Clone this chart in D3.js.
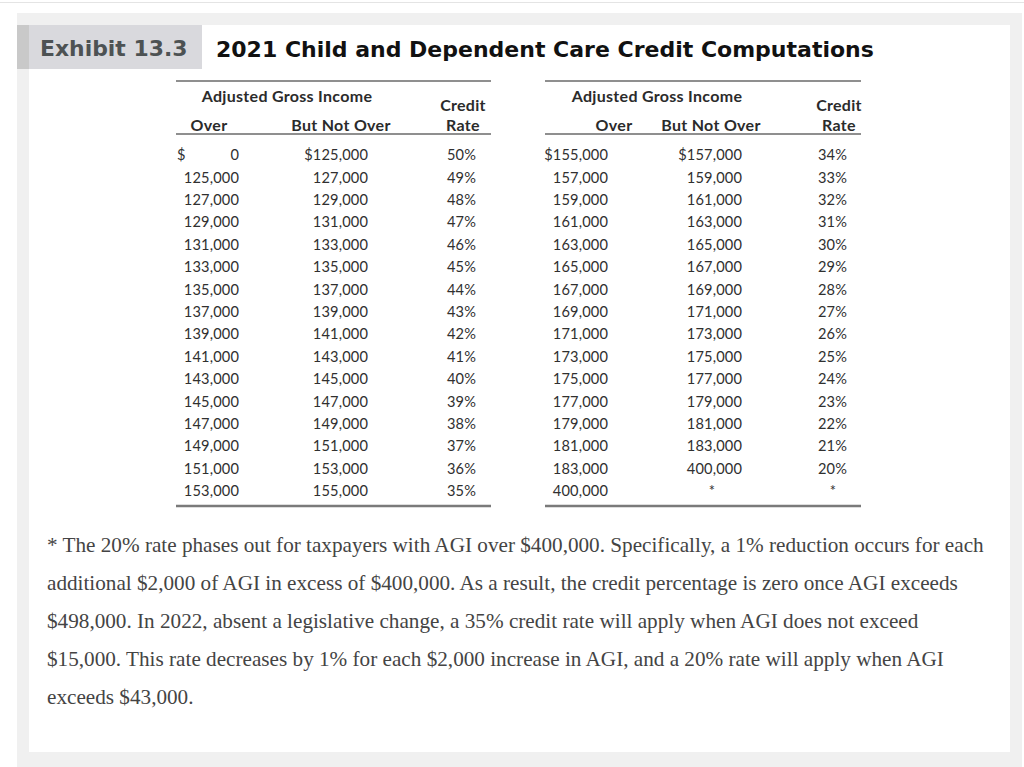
<!DOCTYPE html>
<html>
<head>
<meta charset="utf-8">
<script src="https://cdn.jsdelivr.net/npm/d3@7"></script>
<style>
  html, body { margin: 0; padding: 0; background: #ffffff; }
  svg { display: block; }
</style>
</head>
<body>
<svg id="chart" width="1024" height="767"></svg>
<script>
// ---- Data ----
const exhibitLabel = "Exhibit 13.3";
const titleText = "2021 Child and Dependent Care Credit Computations";
const groupHeader = "Adjusted Gross Income";
const colHeaders = ["Over", "But Not Over"];
const rateHeader = ["Credit", "Rate"];

const leftOver    = [0, 125000, 127000, 129000, 131000, 133000, 135000, 137000, 139000, 141000, 143000, 145000, 147000, 149000, 151000, 153000];
const leftNotOver = [125000, 127000, 129000, 131000, 133000, 135000, 137000, 139000, 141000, 143000, 145000, 147000, 149000, 151000, 153000, 155000];
const leftRate    = [50, 49, 48, 47, 46, 45, 44, 43, 42, 41, 40, 39, 38, 37, 36, 35];

const rightOver    = [155000, 157000, 159000, 161000, 163000, 165000, 167000, 169000, 171000, 173000, 175000, 177000, 179000, 181000, 183000, 400000];
const rightNotOver = [157000, 159000, 161000, 163000, 165000, 167000, 169000, 171000, 173000, 175000, 177000, 179000, 181000, 183000, 400000, null];
const rightRate    = [34, 33, 32, 31, 30, 29, 28, 27, 26, 25, 24, 23, 22, 21, 20, null];

const footnoteLines = [
  "* The 20% rate phases out for taxpayers with AGI over $400,000. Specifically, a 1% reduction occurs for each",
  "additional $2,000 of AGI in excess of $400,000. As a result, the credit percentage is zero once AGI exceeds",
  "$498,000. In 2022, absent a legislative change, a 35% credit rate will apply when AGI does not exceed",
  "$15,000. This rate decreases by 1% for each $2,000 increase in AGI, and a 20% rate will apply when AGI",
  "exceeds $43,000."
];

// ---- Drawing ----
const svg = d3.select("#chart");
const fmt = d3.format(",");

// page frame
svg.append("line").attr("x1", 0).attr("x2", 1024).attr("y1", 2.5).attr("y2", 2.5)
  .attr("stroke", "#e4e4e4").attr("stroke-width", 1);
svg.append("rect").attr("x", 17).attr("y", 13).attr("width", 1005).attr("height", 760).attr("fill", "#f0f0f0");
svg.append("rect").attr("x", 29).attr("y", 25).attr("width", 981).attr("height", 727).attr("fill", "#ffffff");

// title band
svg.append("rect").attr("x", 17).attr("y", 25).attr("width", 12).attr("height", 44).attr("fill", "#c9c9c9");
svg.append("rect").attr("x", 29).attr("y", 25).attr("width", 173).attr("height", 44).attr("fill", "#d9d9dd");
svg.append("text").attr("x", 40).attr("y", 56)
  .attr("font-family", "DejaVu Sans").attr("font-weight", "bold").attr("font-size", 21.9)
  .attr("fill", "#4d5253").text(exhibitLabel);
svg.append("text").attr("x", 216).attr("y", 56.5)
  .attr("font-family", "DejaVu Sans").attr("font-weight", "bold").attr("font-size", 22)
  .attr("fill", "#111111").text(titleText);

// row scale
const y = d3.scalePoint().domain(d3.range(16)).range([155, 491]);

const bodyFont = "Lato";
const bodySize = 14.6;
const headSize = 16;

function drawTable(g, cfg) {
  const { x0, x1, overRight, notOverRight, rateRight, groupCenter, overCenter, notOverCenter, rateCenter,
          over, notOver, rate, dollarLeft } = cfg;
  // rules
  g.append("line").attr("x1", x0).attr("x2", x1).attr("y1", 81).attr("y2", 81)
    .attr("stroke", "#6a6a6a").attr("stroke-width", 1.6);
  g.append("line").attr("x1", x0).attr("x2", x1).attr("y1", 134).attr("y2", 134)
    .attr("stroke", "#6a6a6a").attr("stroke-width", 1.6);
  g.append("line").attr("x1", x0).attr("x2", x1).attr("y1", 506).attr("y2", 506)
    .attr("stroke", "#7a7a7a").attr("stroke-width", 2.6);

  const head = (x, yy, t) => g.append("text").attr("x", x).attr("y", yy)
    .attr("text-anchor", "middle").attr("font-family", bodyFont).attr("font-weight", "bold")
    .attr("font-size", headSize).attr("letter-spacing", 0.3).attr("fill", "#2b2b2b").text(t);
  head(groupCenter, 102, groupHeader);
  head(overCenter, 130.5, colHeaders[0]);
  head(notOverCenter, 130.5, colHeaders[1]);
  head(rateCenter, 111, rateHeader[0]);
  head(rateCenter, 130.5, rateHeader[1]);

  const cell = (sel) => sel.attr("font-family", bodyFont).attr("font-size", bodySize)
    .attr("letter-spacing", 0.15).attr("fill", "#303030").attr("dy", "0.36em");

  // Over column
  g.selectAll(null).data(over).join("text").call(cell)
    .attr("x", overRight).attr("y", (d, i) => y(i)).attr("text-anchor", "end")
    .text((d, i) => (i === 0 && !dollarLeft) ? "$" + fmt(d) : fmt(d));
  if (dollarLeft) {
    g.append("text").call(cell).attr("x", dollarLeft).attr("y", y(0)).text("$");
  }
  // But not over column
  g.selectAll(null).data(notOver).join("text").call(cell)
    .attr("x", (d) => d == null ? notOverCenter + 1 : notOverRight)
    .attr("y", (d, i) => y(i))
    .attr("text-anchor", (d) => d == null ? "middle" : "end")
    .text((d, i) => d == null ? "*" : (i === 0 ? "$" + fmt(d) : fmt(d)));
  // Rate column
  g.selectAll(null).data(rate).join("text").call(cell)
    .attr("x", (d) => d == null ? rateRight - 14 : rateRight)
    .attr("y", (d, i) => y(i))
    .attr("text-anchor", (d) => d == null ? "middle" : "end")
    .text((d) => d == null ? "*" : d + "%");
}

drawTable(svg.append("g"), {
  x0: 176, x1: 491, overRight: 239, notOverRight: 368, rateRight: 476,
  groupCenter: 287, overCenter: 209, notOverCenter: 341, rateCenter: 463,
  over: leftOver, notOver: leftNotOver, rate: leftRate, dollarLeft: 177
});
drawTable(svg.append("g"), {
  x0: 545, x1: 861, overRight: 608, notOverRight: 742, rateRight: 847,
  groupCenter: 657, overCenter: 614, notOverCenter: 711, rateCenter: 839,
  over: rightOver, notOver: rightNotOver, rate: rightRate, dollarLeft: null
});

// footnote
svg.append("g").selectAll("text").data(footnoteLines).join("text")
  .attr("x", 47).attr("y", (d, i) => 551.5 + i * 38)
  .attr("font-family", "Liberation Serif").attr("font-size", 21.2)
  .attr("fill", "#444444").text(d => d);
</script>
</body>
</html>
